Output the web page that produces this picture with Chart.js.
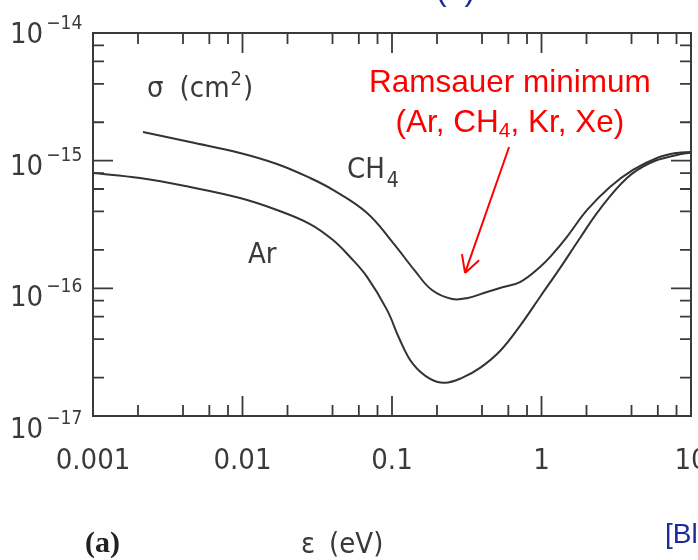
<!DOCTYPE html>
<html><head><meta charset="utf-8">
<script src="https://cdn.jsdelivr.net/npm/chart.js@4"></script>
<style>html,body{margin:0;padding:0;background:#fff}canvas{display:block}</style>
</head><body>
<canvas id="c" width="698" height="560"></canvas>
<script>
// ---- data ----
const ENERGY_CH4 = [0.00216,0.00446,0.00962,0.0170,0.0283,0.0403,0.0681,0.1016,0.1425,0.185,0.252,0.322,0.432,0.528,0.718,0.977,1.19,1.48,2.02,2.87,4.09,5.93,8.06,10];
const SIGMA_CH4  = [1.68e-15,1.40e-15,1.15e-15,9.42e-16,7.32e-16,5.90e-16,3.89e-16,2.27e-16,1.37e-16,9.7e-17,8.26e-17,8.41e-17,9.37e-17,1.007e-16,1.12e-16,1.47e-16,1.86e-16,2.53e-16,4.11e-16,6.22e-16,8.46e-16,1.05e-15,1.15e-15,1.17e-15];
const ENERGY_AR  = [0.001,0.00206,0.00446,0.00962,0.0170,0.0283,0.0403,0.0524,0.0681,0.0926,0.113,0.138,0.180,0.226,0.294,0.388,0.528,0.718,0.977,1.33,1.81,2.46,3.73,5.32,8.06,10];
const SIGMA_AR   = [8.01e-16,7.32e-16,6.22e-16,5.10e-16,4.11e-16,3.19e-16,2.39e-16,1.76e-16,1.23e-16,6.78e-17,3.94e-17,2.56e-17,1.95e-17,1.82e-17,1.99e-17,2.38e-17,3.23e-17,5.08e-17,8.56e-17,1.44e-16,2.48e-16,4.18e-16,7.32e-16,9.59e-16,1.108e-15,1.16e-15];

const X_TICKS = [0.001, 0.01, 0.1, 1, 10];
const X_TICK_LABELS = ['0.001', '0.01', '0.1', '1', '10'];
const Y_TICKS = [1e-17, 1e-16, 1e-15, 1e-14];
const Y_TICK_EXPONENTS = ['\u221217', '\u221216', '\u221215', '\u221214'];
const MINOR_MULTIPLIERS = [2, 4, 6, 8];

// annotation anchors (data coordinates)
const ARROW_TAIL = {x: 0.607, y: 1.28e-15};
const ARROW_TIP  = {x: 0.308, y: 1.32e-16};

const GRAY = '#3a3a3a';
const NARROW = '"Liberation Sans Narrow", "DejaVu Sans Condensed", "Noto Sans", sans-serif';
const ARIAL = '"Liberation Sans", Arial, sans-serif';
const BLUE = '#1c2a9c';

function pts(xs, ys){ return xs.map((v,i)=>({x:v, y:ys[i]})); }

function richText(ctx, parts, x, y, align){
  let w = 0;
  parts.forEach(p => { ctx.font = p.font; p.w = ctx.measureText(p.t).width; w += p.w + (p.gap||0); });
  let cx = align === 'center' ? x - w/2 : x;
  ctx.textAlign = 'left';
  ctx.textBaseline = 'alphabetic';
  parts.forEach(p => { ctx.font = p.font; cx += (p.gap||0); ctx.fillText(p.t, cx, y + (p.dy||0)); cx += p.w; });
}

const decor = {
  id: 'decor',
  afterDraw(chart){
    const {ctx, chartArea:a, scales:{x, y}} = chart;
    ctx.save();
    // frame
    ctx.strokeStyle = GRAY; ctx.lineWidth = 2;
    ctx.strokeRect(a.left, a.top, a.right - a.left, a.bottom - a.top);
    // inward ticks on all sides
    const MAJ = 20, MIN = 11;
    const xTicks = [];
    X_TICKS.forEach((d, i) => {
      xTicks.push([d, MAJ]);
      if (i < X_TICKS.length - 1) MINOR_MULTIPLIERS.forEach(m => xTicks.push([d*m, MIN]));
    });
    const yTicks = [];
    Y_TICKS.forEach((d, i) => {
      yTicks.push([d, MAJ]);
      if (i < Y_TICKS.length - 1) MINOR_MULTIPLIERS.forEach(m => yTicks.push([d*m, MIN]));
    });
    ctx.lineWidth = 1.8;
    ctx.beginPath();
    xTicks.forEach(([v, L]) => {
      const px = x.getPixelForValue(v);
      ctx.moveTo(px, a.bottom); ctx.lineTo(px, a.bottom - L);
      ctx.moveTo(px, a.top); ctx.lineTo(px, a.top + L);
    });
    yTicks.forEach(([v, L]) => {
      const py = y.getPixelForValue(v);
      ctx.moveTo(a.left, py); ctx.lineTo(a.left + L, py);
      ctx.moveTo(a.right, py); ctx.lineTo(a.right - L, py);
    });
    ctx.stroke();

    // y tick labels 10^n
    ctx.fillStyle = GRAY;
    Y_TICKS.forEach((v, i) => {
      const py = y.getPixelForValue(v);
      richText(ctx, [
        {t: '10', font: `29px ${NARROW}`},
        {t: Y_TICK_EXPONENTS[i], font: `19px ${NARROW}`, dy: -14, gap: 3}
      ], 10, py + 22 - 4 * i, 'left');
    });

    // in-plot labels
    const P = (vx, vy) => [x.getPixelForValue(vx), y.getPixelForValue(vy)];
    let [sx, sy] = P(0.0023, 3.15e-15);
    richText(ctx, [
      {t: '\u03c3', font: `29px ${NARROW}`},
      {t: '(cm', font: `29px ${NARROW}`, gap: 16},
      {t: '2', font: `20px ${NARROW}`, dy: -12, gap: 1},
      {t: ')', font: `29px ${NARROW}`, gap: 1}
    ], sx, sy, 'left');
    [sx, sy] = P(0.05, 7.32e-16);
    richText(ctx, [
      {t: 'CH', font: `29px ${NARROW}`},
      {t: '4', font: `21px ${NARROW}`, dy: 9, gap: 2}
    ], sx, sy, 'left');
    [sx, sy] = P(0.01088, 1.58e-16);
    richText(ctx, [{t: 'Ar', font: `29px ${NARROW}`}], sx, sy, 'left');

    // red annotation
    ctx.fillStyle = '#ff0000';
    [sx, sy] = P(0.615, 3.45e-15);
    richText(ctx, [{t: 'Ramsauer minimum', font: `31.5px ${ARIAL}`}], sx, sy, 'center');
    [sx, sy] = P(0.615, 1.68e-15);
    richText(ctx, [
      {t: '(Ar, CH', font: `31.5px ${ARIAL}`},
      {t: '4', font: `21px ${ARIAL}`, dy: 5},
      {t: ', Kr, Xe)', font: `31.5px ${ARIAL}`}
    ], sx, sy, 'center');
    // arrow
    const [tx, ty] = P(ARROW_TAIL.x, ARROW_TAIL.y);
    const [hx, hy] = P(ARROW_TIP.x, ARROW_TIP.y);
    ctx.strokeStyle = '#ff0000'; ctx.lineWidth = 2;
    ctx.beginPath(); ctx.moveTo(tx, ty); ctx.lineTo(hx, hy);
    const ang = Math.atan2(hy - ty, hx - tx);
    const hl = 19, spread = 0.5;
    ctx.moveTo(hx, hy); ctx.lineTo(hx - hl*Math.cos(ang - spread), hy - hl*Math.sin(ang - spread));
    ctx.moveTo(hx, hy); ctx.lineTo(hx - hl*Math.cos(ang + spread), hy - hl*Math.sin(ang + spread));
    ctx.stroke();

    // outside texts
    ctx.fillStyle = GRAY;
    richText(ctx, [
      {t: '\u03b5', font: `29px ${NARROW}`},
      {t: '(eV)', font: `29px ${NARROW}`, gap: 14}
    ], 301, 553, 'left');
    ctx.fillStyle = '#222';
    richText(ctx, [{t: '(a)', font: `bold 30px "Liberation Serif", serif`}], 85, 552, 'left');
    ctx.fillStyle = BLUE;
    richText(ctx, [{t: '[Bl', font: `28px ${ARIAL}`}], 665, 543, 'left');
    richText(ctx, [{t: '(a)', font: `32px ${ARIAL}`}], 436, 0, 'left');
    ctx.restore();
  }
};

new Chart(document.getElementById('c'), {
  type: 'line',
  data: {
    datasets: [
      {label: 'CH4', data: pts(ENERGY_CH4, SIGMA_CH4), borderColor: '#333', borderWidth: 2, pointRadius: 0, tension: 0.4, fill: false},
      {label: 'Ar', data: pts(ENERGY_AR, SIGMA_AR), borderColor: '#333', borderWidth: 2, pointRadius: 0, tension: 0.4, fill: false}
    ]
  },
  options: {
    responsive: false,
    animation: false,
    devicePixelRatio: 1,
    layout: {padding: {left: 93, right: 7, top: 33, bottom: 0}},
    plugins: {legend: {display: false}, tooltip: {enabled: false}},
    scales: {
      x: {
        type: 'logarithmic', position: 'bottom', min: 0.001, max: 10,
        grid: {display: false, drawTicks: false}, border: {display: false},
        afterBuildTicks: s => { s.ticks = X_TICKS.map(v => ({value: v, major: true})); },
        afterFit: s => { s.height = 144; s.paddingLeft = 0; s.paddingRight = 0; },
        ticks: {
          autoSkip: false, maxRotation: 0, minRotation: 0, padding: 28,
          color: GRAY, font: {family: NARROW, size: 29},
          callback: (v, i) => X_TICK_LABELS[i]
        }
      },
      y: {
        type: 'logarithmic', display: false, min: 1e-17, max: 1e-14
      }
    }
  },
  plugins: [decor]
});
</script>
</body></html>
